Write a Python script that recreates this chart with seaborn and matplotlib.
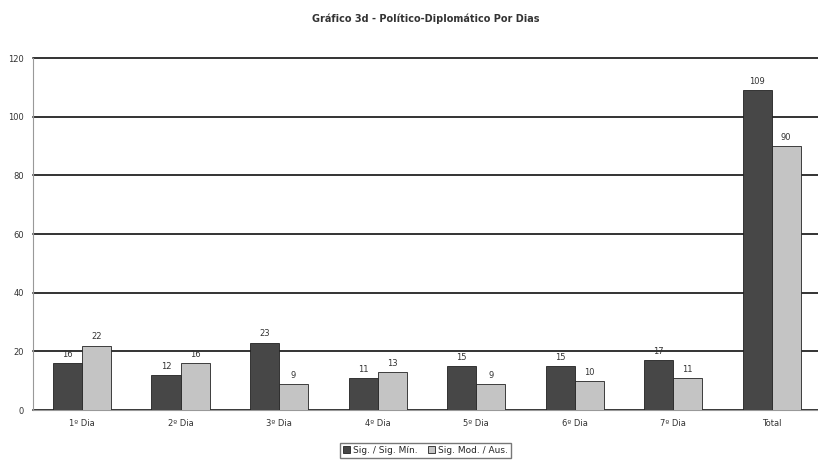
import pandas as pd
import matplotlib.pyplot as plt
import seaborn as sns

dias = ['1º Dia', '2º Dia', '3º Dia', '4º Dia', '5º Dia', '6º Dia', '7º Dia', 'Total']
sig_min = [16, 12, 23, 11, 15, 15, 17, 109]
mod_aus = [22, 16, 9, 13, 9, 10, 11, 90]
series = ['Sig. / Sig. Mín.', 'Sig. Mod. / Aus.']

df = pd.DataFrame({
    'dia': dias * 2,
    'valor': sig_min + mod_aus,
    'serie': [series[0]] * len(dias) + [series[1]] * len(dias),
})

sns.set_style('white')
plt.rcParams['font.family'] = ['DejaVu Sans']

fig = plt.figure(figsize=(8.18, 4.65), dpi=100)
ax = fig.add_axes([0.04, 0.118, 0.96, 0.757])

sns.barplot(data=df, x='dia', y='valor', hue='serie', order=dias, hue_order=series,
            palette=['#474747', '#c4c4c4'], width=0.59, edgecolor='#222222',
            linewidth=0.6, saturation=1, ax=ax, zorder=3)

for cont in ax.containers:
    ax.bar_label(cont, fontsize=6, color='#333333', padding=3)

ax.set_ylim(0, 120)
ax.set_yticks(range(0, 121, 20))
ax.set_xlim(-0.5, 7.47)
ax.yaxis.grid(True, color='#333333', linewidth=1.4, zorder=0)
ax.set_axisbelow(True)
for gl in ax.get_ygridlines():
    gl.set_clip_on(False)
ax.spines['top'].set_visible(False)
ax.spines['right'].set_visible(False)
ax.spines['left'].set_color('#999999')
ax.spines['bottom'].set_color('#999999')
ax.tick_params(axis='both', labelsize=6, colors='#333333', length=3)
ax.set_xlabel('')
ax.set_ylabel('')

ax.set_title('Gráfico 3d - Político-Diplomático Por Dias', fontsize=7, fontweight='bold',
             color='#333333', pad=26)

leg = ax.legend(loc='upper center', bbox_to_anchor=(0.5, -0.08), ncol=2, fontsize=6.5,
                frameon=True, fancybox=False, edgecolor='#555555', handlelength=0.8,
                handleheight=0.8, columnspacing=1.2, handletextpad=0.3, borderpad=0.35)

fig.savefig('out.png', dpi=100, facecolor='white')
